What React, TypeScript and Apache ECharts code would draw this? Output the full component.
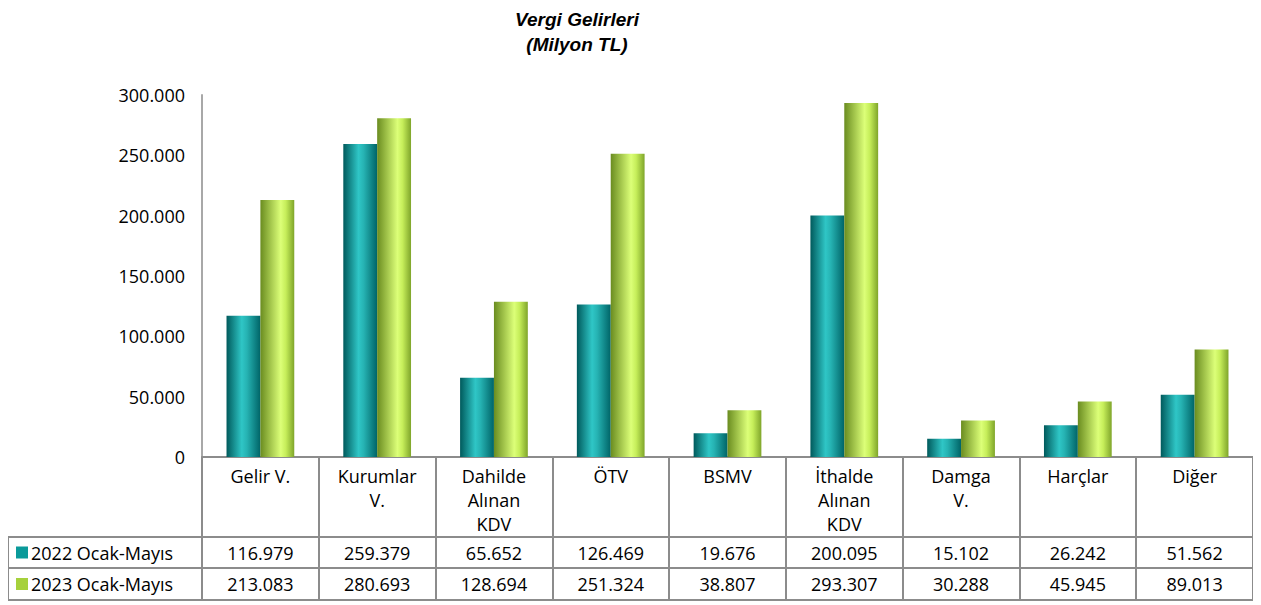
import React, { useEffect, useRef } from "react";
import * as echarts from "echarts";

const categories = ["Gelir V.", "Kurumlar\nV.", "Dahilde\nAlınan\nKDV", "ÖTV", "BSMV", "İthalde\nAlınan\nKDV", "Damga\nV.", "Harçlar", "Diğer"];
const seriesNames = ["2022 Ocak-Mayıs", "2023 Ocak-Mayıs"];
const values2022 = [116979, 259379, 65652, 126469, 19676, 200095, 15102, 26242, 51562];
const values2023 = [213083, 280693, 128694, 251324, 38807, 293307, 30288, 45945, 89013];
const titleLines = ["Vergi Gelirleri", "(Milyon TL)"];

const FONT = "'Open Sans', 'DejaVu Sans', sans-serif";
const FS = 18;
const fmt = (v: number) => {
  const s = Math.round(v).toString();
  return s.replace(/\B(?=(\d{3})+(?!\d))/g, ".");
};

const tealGrad = new echarts.graphic.LinearGradient(0, 0, 1, 0, [
  { offset: 0, color: "#005a5c" },
  { offset: 0.45, color: "#2fc6c6" },
  { offset: 0.6, color: "#26b3b3" },
  { offset: 1, color: "#006467" },
]);
const greenGrad = new echarts.graphic.LinearGradient(0, 0, 1, 0, [
  { offset: 0, color: "#6a8c20" },
  { offset: 0.6, color: "#dcff78" },
  { offset: 0.75, color: "#c6ee5a" },
  { offset: 1, color: "#7fa52a" },
]);

export default function App() {
  const ref = useRef<HTMLDivElement>(null);
  useEffect(() => {
    if (!ref.current) return;
    const chart = echarts.init(ref.current, null, { renderer: "svg" });
    const gridLeft = 194;
    const gridRight = 1245;
    const gridTop = 87;
    const gridBottom = 449;
    chart.setOption({
      animation: false,
      backgroundColor: "#fff",
      grid: { left: gridLeft, top: gridTop, width: gridRight - gridLeft, height: gridBottom - gridTop, containLabel: false },
      xAxis: {
        type: "category",
        data: categories,
        axisLine: { show: true, lineStyle: { color: "#8c8c8c", width: 2 } },
        axisTick: { show: true, length: 143, lineStyle: { color: "#8c8c8c", width: 2 } },
        axisLabel: { interval: 0, margin: 7, color: "#000", fontFamily: FONT, fontSize: FS, lineHeight: 24, verticalAlign: "top" },
      },
      yAxis: {
        type: "value",
        min: 0,
        max: 300000,
        interval: 50000,
        splitLine: { show: false },
        axisLine: { show: true, lineStyle: { color: "#a8a8a8", width: 2 } },
        axisTick: { show: false },
        axisLabel: { margin: 17, color: "#000", fontFamily: FONT, fontSize: FS, formatter: (v: number) => fmt(v) },
      },
      series: [
        { name: seriesNames[0], type: "bar", data: values2022, barGap: "0%", barCategoryGap: "42%", itemStyle: { color: tealGrad } },
        { name: seriesNames[1], type: "bar", data: values2023, barGap: "0%", barCategoryGap: "42%", itemStyle: { color: greenGrad } },
      ],
    });

    const rowTops = [529, 560, 592];
    const left = 0;
    const elements: any[] = [];
    titleLines.forEach((t, i) => {
      elements.push({ type: "text", x: 569, y: 11 + i * 25, style: { text: t, fontFamily: "Arial, 'Liberation Sans', sans-serif", fontStyle: "italic", fontWeight: "bold", fontSize: 19, fill: "#000", align: "center", verticalAlign: "middle" } });
    });
    rowTops.forEach((y) => {
      elements.push({ type: "line", shape: { x1: left, y1: y, x2: gridRight, y2: y }, style: { stroke: "#8c8c8c", lineWidth: 2 } });
    });
    elements.push({ type: "line", shape: { x1: left, y1: rowTops[0], x2: left, y2: rowTops[2] }, style: { stroke: "#8c8c8c", lineWidth: 2 } });
    const rows = [values2022, values2023];
    const colors = ["#0a9a9a", "#a6d13c"];
    rows.forEach((vals, r) => {
      const cy = (rowTops[r] + rowTops[r + 1]) / 2;
      elements.push({ type: "rect", shape: { x: 8, y: cy - 6, width: 12, height: 12 }, style: { fill: colors[r] } });
      elements.push({ type: "text", x: 23, y: cy, style: { text: seriesNames[r], fontFamily: FONT, fontSize: FS, fill: "#000", verticalAlign: "middle", align: "left" } });
      vals.forEach((v, i) => {
        const x = chart.convertToPixel({ xAxisIndex: 0 }, i) as number;
        elements.push({ type: "text", x, y: cy, style: { text: fmt(v), fontFamily: FONT, fontSize: FS, fill: "#000", verticalAlign: "middle", align: "center" } });
      });
    });
    chart.setOption({ graphic: elements });
    return () => chart.dispose();
  }, []);
  return <div ref={ref} style={{ width: 1245, height: 597 }} />;
}
